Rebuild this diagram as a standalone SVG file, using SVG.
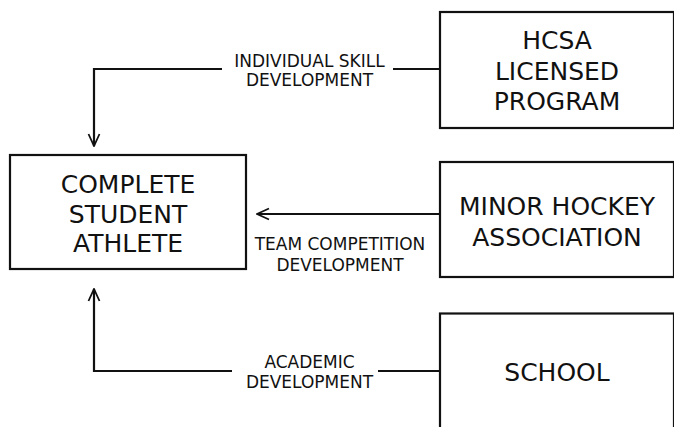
<svg xmlns="http://www.w3.org/2000/svg" width="674" height="427" viewBox="0 0 674 427">
<defs>
<marker id="arr" viewBox="0 0 14 14" refX="13" refY="7" markerWidth="14" markerHeight="14" markerUnits="userSpaceOnUse" orient="auto">
<path d="M1,1.5 L13,7 L1,12.5" fill="none" stroke="#111" stroke-width="1.8"/>
</marker>
<style>
.box{fill:#fff;stroke:#111;stroke-width:2.2}
.t{font-family:"DejaVu Sans",Verdana,sans-serif;font-size:25px;fill:#111;text-anchor:middle}
.l{font-family:"DejaVu Sans",Verdana,sans-serif;font-size:17px;fill:#111;text-anchor:middle}
.c{fill:none;stroke:#111;stroke-width:2.2}
</style>
</defs>
<rect width="674" height="427" fill="#fff"/>
<g id="connectors">
<path class="c" d="M440,69 H393"/>
<path class="c" d="M222,69 H94 V146" marker-end="url(#arr)"/>
<path class="c" d="M440,214 H257" marker-end="url(#arr)"/>
<path class="c" d="M440,371 H378"/>
<path class="c" d="M232,371 H94 V289" marker-end="url(#arr)"/>
<text class="l" x="309.5" y="66.5">INDIVIDUAL SKILL</text>
<text class="l" x="309.5" y="85.5">DEVELOPMENT</text>
<text class="l" x="340" y="250">TEAM COMPETITION</text>
<text class="l" x="340" y="270.5">DEVELOPMENT</text>
<text class="l" x="309.5" y="368">ACADEMIC</text>
<text class="l" x="309.5" y="388">DEVELOPMENT</text>
</g>
<g id="hcsa">
<rect class="box" x="440" y="12" width="234" height="116"/>
<text class="t" x="557" y="48.5">HCSA</text>
<text class="t" x="557" y="80">LICENSED</text>
<text class="t" x="557" y="109.5">PROGRAM</text>
</g>
<g id="athlete">
<rect class="box" x="10" y="155" width="236" height="114"/>
<text class="t" x="128" y="193">COMPLETE</text>
<text class="t" x="128" y="222.5">STUDENT</text>
<text class="t" x="128" y="252">ATHLETE</text>
</g>
<g id="minor">
<rect class="box" x="440" y="162" width="234" height="115"/>
<text class="t" x="557" y="215">MINOR HOCKEY</text>
<text class="t" x="557" y="246">ASSOCIATION</text>
</g>
<g id="school">
<rect class="box" x="440" y="313.5" width="234" height="130"/>
<text class="t" x="557" y="381">SCHOOL</text>
</g>
</svg>
